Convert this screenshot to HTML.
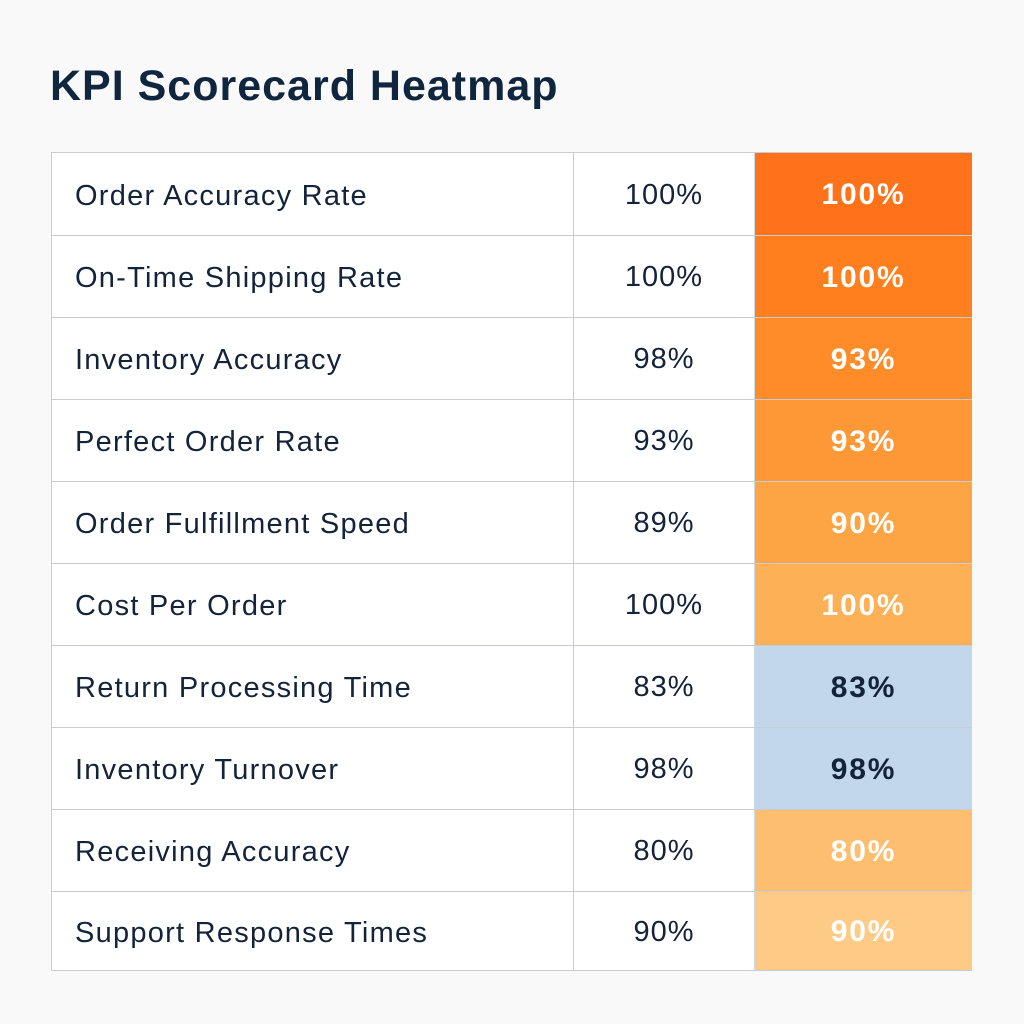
<!DOCTYPE html>
<html><head><style>
body{margin:0;width:1024px;height:1024px;background:#f9f9fa;font-family:"Liberation Sans",sans-serif;position:relative;overflow:hidden}
h1{position:absolute;left:50px;top:62px;margin:0;font-size:43px;font-weight:bold;color:#10263f;letter-spacing:1px}
.t{position:absolute;left:51px;top:152px;width:921px;height:819px;background:#fff;border:1.5px solid #c9ccd6;box-sizing:border-box}
.r{position:absolute;left:0;width:100%;height:82px;border-top:1.5px solid #c9ccd6;box-sizing:border-box}
.r:first-child{border-top:none}
.c1,.c2,.c3{position:absolute;top:2px;height:100%;display:flex;align-items:center;font-size:29px;color:#13233a}
.c1{left:23px;letter-spacing:1.25px}
.c2{left:521px;width:181px;top:0;padding-top:2px;justify-content:center;border-left:1.5px solid #c9ccd6;box-sizing:border-box;letter-spacing:1px}
.c3{left:702px;width:218px;top:0;padding-top:2px;justify-content:center;font-weight:bold;font-size:30px;letter-spacing:1.8px;color:#fff;border-left:1.5px solid #c9dcec;box-sizing:border-box}
.b{color:#13233a}
</style></head><body>
<h1>KPI Scorecard Heatmap</h1>
<div class="t">
<div class="r" style="top:0"><div class="c1">Order Accuracy Rate</div><div class="c2">100%</div><div class="c3" style="background:#ff7219">100%</div></div>
<div class="r" style="top:82px"><div class="c1">On-Time Shipping Rate</div><div class="c2">100%</div><div class="c3" style="background:#ff7e1d">100%</div></div>
<div class="r" style="top:164px"><div class="c1">Inventory Accuracy</div><div class="c2">98%</div><div class="c3" style="background:#ff8b29">93%</div></div>
<div class="r" style="top:246px"><div class="c1">Perfect Order Rate</div><div class="c2">93%</div><div class="c3" style="background:#fe9836">93%</div></div>
<div class="r" style="top:328px"><div class="c1">Order Fulfillment Speed</div><div class="c2">89%</div><div class="c3" style="background:#fda444">90%</div></div>
<div class="r" style="top:410px"><div class="c1">Cost Per Order</div><div class="c2">100%</div><div class="c3" style="background:#fdb056">100%</div></div>
<div class="r" style="top:492px"><div class="c1">Return Processing Time</div><div class="c2">83%</div><div class="c3 b" style="background:#c3d7ea">83%</div></div>
<div class="r" style="top:574px"><div class="c1">Inventory Turnover</div><div class="c2">98%</div><div class="c3 b" style="background:#c3d7ea">98%</div></div>
<div class="r" style="top:656px"><div class="c1">Receiving Accuracy</div><div class="c2">80%</div><div class="c3" style="background:#fdbe6f">80%</div></div>
<div class="r" style="top:738px;height:79px"><div class="c1">Support Response Times</div><div class="c2">90%</div><div class="c3" style="background:#fdcb86">90%</div></div>
</div>
</body></html>
